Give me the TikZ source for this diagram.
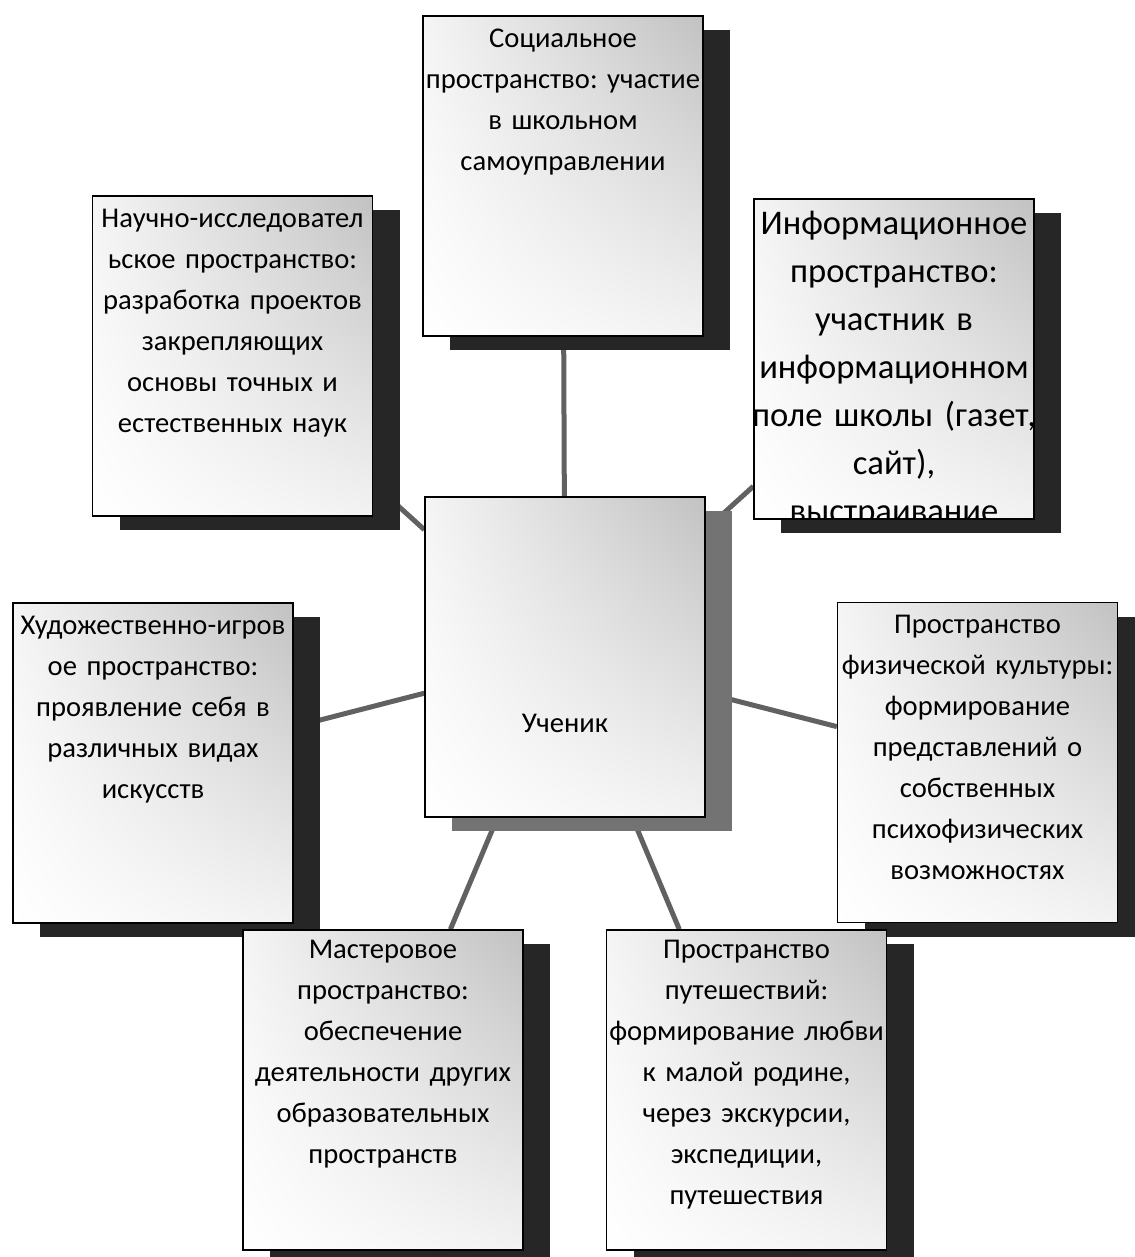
\documentclass[tikz,border=0pt]{standalone}
\usepackage{fontspec}
\setmainfont{Carlito}
\frenchspacing
\usetikzlibrary{shadows,shadings,backgrounds}

\begin{document}
\begin{tikzpicture}[x=0.5pt, y=-0.5pt,
    panel/.style={draw=black, line width=0.7pt, minimum width=140pt, minimum height=160pt, inner sep=0pt,
        upper left=gray!8, upper right=gray!48, lower left=white, lower right=gray!10,
        drop shadow={shadow xshift=13.5pt, shadow yshift=-7pt, fill=#1, opacity=1}},
    panel/.default=black!85,
    words/.style={anchor=north, align=center, text width=150pt, inner sep=0pt,
        font=\fontsize{14.3}{20.5}\selectfont},
    spoke/.style={black!62, line width=2.5pt}]
    \useasboundingbox (0,0) rectangle (1134,1257);

    \node[panel] (soc) at (563,176) {};
    \node[words] (soc-t) at ([yshift=-6.5pt]soc.north) {Социальное\\пространство: участие\\в школьном\\самоуправлении};

    \node[panel] (sci) at (232.5,356) {};
    \node[words] (sci-t) at ([yshift=-6.5pt]sci.north) {Научно-исследовател\\ьское пространство:\\разработка проектов\\закрепляющих\\основы точных и\\естественных наук};

    \node[panel] (inf) at (894,359) {};
    \begin{scope}
        \clip (inf.north west) rectangle (inf.south east);
        \node[words, font=\fontsize{17.3}{24}\selectfont] (inf-t) at ([yshift=-6pt]inf.north) {Информационное\\пространство:\\участник в\\информационном\\поле школы (газет,\\сайт),\\выстраивание};
    \end{scope}

    \node[panel=black!55] (mid) at (565,657) {};
    \node[font=\fontsize{14.3}{20.5}\selectfont] (mid-t) at ([yshift=-33pt]mid.center) {Ученик};

    \node[panel] (art) at (153,763) {};
    \node[words] (art-t) at ([yshift=-6.5pt]art.north) {Художественно-игров\\ое пространство:\\проявление себя в\\различных видах\\искусств};

    \node[panel] (phy) at (977.5,762.5) {};
    \node[words] (phy-t) at ([yshift=-6.5pt]phy.north) {Пространство\\физической культуры:\\формирование\\представлений о\\собственных\\психофизических\\возможностях};

    \node[panel] (mas) at (383,1090) {};
    \node[words] (mas-t) at ([yshift=-5pt]mas.north) {Мастеровое\\пространство:\\обеспечение\\деятельности других\\образовательных\\пространств};

    \node[panel] (tra) at (746.5,1090) {};
    \node[words] (tra-t) at ([yshift=-5pt]tra.north) {Пространство\\путешествий:\\формирование любви\\к малой родине,\\через экскурсии,\\экспедиции,\\путешествия};

    \begin{scope}[on background layer]
        \foreach \n in {soc,sci,inf,art,phy,mas,tra}
            \draw[spoke] (mid) -- (\n);
    \end{scope}
\end{tikzpicture}
\end{document}
